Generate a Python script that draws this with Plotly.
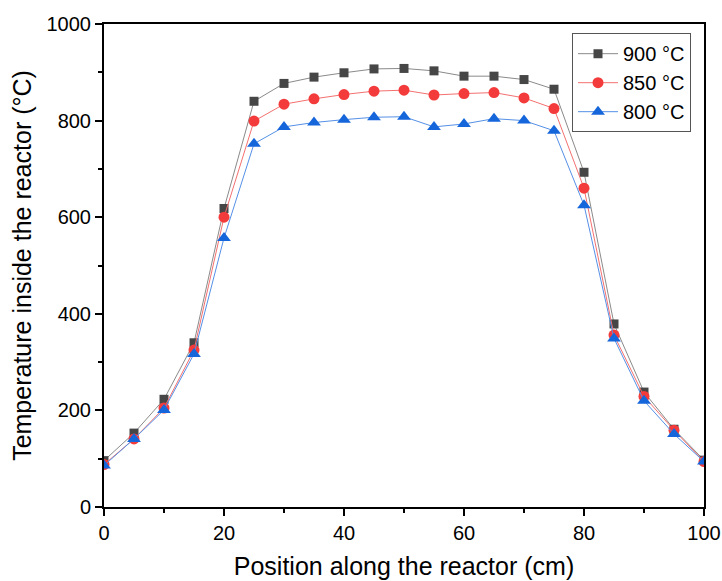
import plotly.graph_objects as go

position = [0, 5, 10, 15, 20, 25, 30, 35, 40, 45, 50, 55, 60, 65, 70, 75, 80, 85, 90, 95, 100]
t900 = [96, 153, 223, 340, 618, 840, 877, 890, 899, 907, 908, 903, 892, 892, 885, 865, 693, 379, 238, 161, 97]
t850 = [88, 141, 205, 325, 600, 799, 834, 845, 854, 861, 863, 853, 856, 858, 847, 825, 660, 356, 229, 159, 94]
t800 = [86, 141, 201, 317, 557, 752, 787, 796, 802, 807, 808, 787, 793, 804, 800, 779, 625, 349, 220, 151, 94]

series = [
    ("900 °C", t900, "square", "#464646", "#8a8a8a", 9),
    ("850 °C", t850, "circle", "#F43B3B", "#F47070", 11),
    ("800 °C", t800, "triangle-up", "#1565DB", "#5590E6", 12),
]

FONT = "Liberation Sans, Arial"

fig = go.Figure()
for name, y, sym, mcol, lcol, size in series:
    fig.add_trace(go.Scatter(
        x=position, y=y, name=name, mode="lines+markers",
        line=dict(color=lcol, width=1),
        marker=dict(symbol=sym, color=mcol, size=size, line=dict(width=0)),
    ))

axis_common = dict(
    showline=True, linecolor="black", linewidth=2, mirror=True,
    ticks="outside", ticklen=7, tickwidth=1.5, tickcolor="black",
    showgrid=False, zeroline=False, automargin=False,
    tickfont=dict(family=FONT, size=20, color="black"),
)

fig.update_xaxes(
    range=[0, 100], dtick=20, tick0=0,
    minor=dict(ticks="outside", ticklen=4, dtick=10, tickcolor="black", tickwidth=1.5),
    title=dict(text="Position along the reactor (cm)", font=dict(family=FONT, size=25, color="black"), standoff=14),
    **axis_common,
)
fig.update_yaxes(
    range=[0, 1000], dtick=200, tick0=0,
    minor=dict(ticks="outside", ticklen=4, dtick=100, tickcolor="black", tickwidth=1.5),
    title=dict(text="Temperature inside the reactor (°C)", font=dict(family=FONT, size=25, color="black"), standoff=8),
    **axis_common,
)

fig.update_layout(
    width=722, height=581,
    margin=dict(l=104, r=18, t=24, b=74),
    paper_bgcolor="white", plot_bgcolor="white",
    showlegend=True,
    legend=dict(
        x=0.78, y=0.981, xanchor="left", yanchor="top",
        bordercolor="#555555", borderwidth=1, bgcolor="white",
        font=dict(family=FONT, size=20, color="black"),
        tracegroupgap=0, itemwidth=40,
    ),
)

fig.write_html("out.html")
